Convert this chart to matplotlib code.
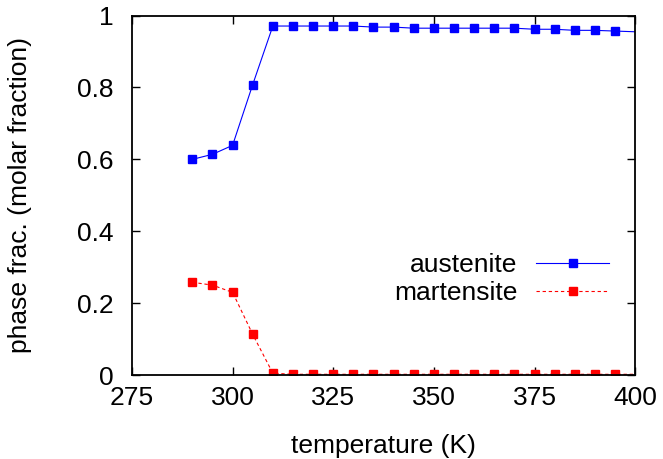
import matplotlib
matplotlib.use("Agg")
import matplotlib.pyplot as plt
from matplotlib.ticker import FuncFormatter

plt.rcParams['font.family'] = ['Liberation Sans', 'DejaVu Sans']

temperature = [290, 295, 300, 305, 310, 315, 320, 325, 330, 335, 340, 345, 350,
               355, 360, 365, 370, 375, 380, 385, 390, 395, 405]
austenite = [0.600, 0.614, 0.639, 0.808, 0.971, 0.971, 0.971, 0.971, 0.971,
             0.968, 0.968, 0.965, 0.965, 0.965, 0.965, 0.965, 0.965, 0.962,
             0.962, 0.959, 0.959, 0.957, 0.953]
martensite = [0.258, 0.250, 0.230, 0.113, 0.005, 0.002, 0.002, 0.002, 0.002,
              0.002, 0.002, 0.002, 0.002, 0.002, 0.002, 0.002, 0.002, 0.002,
              0.002, 0.002, 0.002, 0.002, 0.002]
xticks = [275, 300, 325, 350, 375, 400]
yticks = [0, 0.2, 0.4, 0.6, 0.8, 1.0]

FS = 19

fig = plt.figure(figsize=(6.63, 4.59), dpi=100)
ax = fig.add_axes([0.199, 0.183, 0.759, 0.783])

ax.plot(temperature, austenite, color='#0000ff', lw=0.8, marker='s', ms=6.3,
        mec='#0000ff', mfc='#0000ff', label='austenite')
ax.plot(temperature, martensite, color='#ff0000', lw=0.8, ls=(0, (3, 2.5)),
        marker='s', ms=6.3, mec='#ff0000', mfc='#ff0000', label='martensite')

ax.set_xlim(275, 400)
ax.set_ylim(0, 1)
ax.set_xticks(xticks)
ax.set_yticks(yticks)
ax.yaxis.set_major_formatter(FuncFormatter(lambda v, p: f"{v:g}"))
ax.tick_params(direction='in', length=6, width=1.0, top=True, right=True,
               labelsize=FS)
ax.tick_params(axis='x', pad=8)
ax.tick_params(axis='y', pad=13)
for s in ax.spines.values():
    s.set_linewidth(1.3)

ax.set_xlabel('temperature (K)', fontsize=FS)
ax.set_ylabel('phase frac. (molar fraction)', fontsize=FS)
ax.xaxis.set_label_coords(0.5, -0.163)
ax.yaxis.set_label_coords(-0.199, 0.5)

leg = ax.legend(loc='upper right', bbox_to_anchor=(0.948, 0.34),
                markerfirst=False, frameon=False, fontsize=FS,
                handlelength=2.75, handletextpad=0.72, labelspacing=0.15,
                borderpad=0, borderaxespad=0)

fig.savefig('out.png', dpi=100)
